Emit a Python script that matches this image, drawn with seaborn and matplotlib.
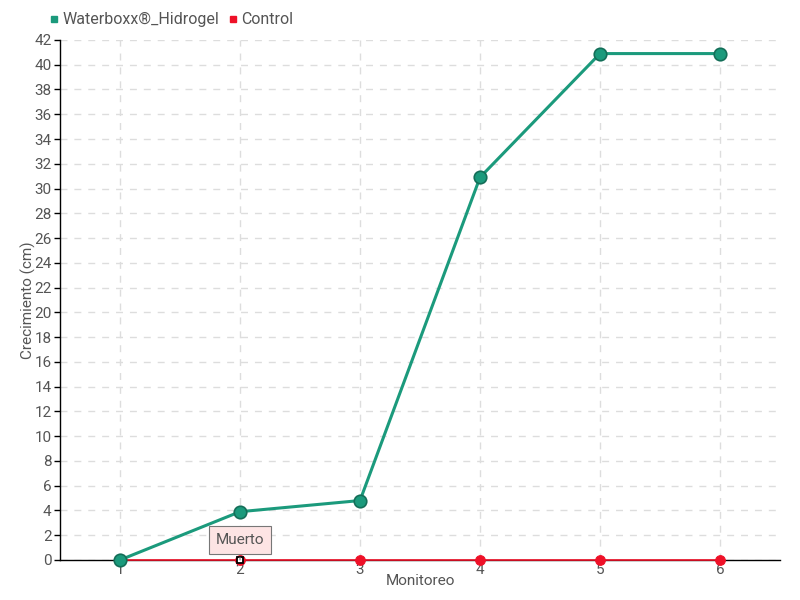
import matplotlib
matplotlib.use("Agg")
import matplotlib.pyplot as plt
import seaborn as sns
import pandas as pd

monitoreo = [1, 2, 3, 4, 5, 6]
waterboxx = [0.0, 3.9, 4.8, 30.9, 40.9, 40.9]
control = [0, 0, 0, 0, 0, 0]
series_names = ["Waterboxx®_Hidrogel", "Control"]
y_ticks = list(range(0, 43, 2))

sns.set_theme(style="white")
plt.rcParams['font.family'] = ['Roboto', 'DejaVu Sans']

teal = "#1b9a7c"
red = "#ee1128"
txt = "#555555"

df = pd.DataFrame({
    "Monitoreo": monitoreo * 2,
    "Crecimiento": waterboxx + control,
    "Serie": [series_names[0]] * 6 + [series_names[1]] * 6,
})

fig = plt.figure(figsize=(8, 6), dpi=100)
ax = fig.add_axes([0.075, 0.0667, 0.9, 0.8667])

sns.lineplot(data=df[df.Serie == series_names[1]], x="Monitoreo", y="Crecimiento",
             color=red, lw=1.2, marker="o", markersize=7, markeredgecolor=red,
             ax=ax, legend=False, zorder=5, clip_on=False)
sns.lineplot(data=df[df.Serie == series_names[0]], x="Monitoreo", y="Crecimiento",
             color=teal, lw=2.2, marker="o", markersize=9, markeredgecolor="#146e58",
             markeredgewidth=1.2, ax=ax, legend=False, zorder=6, clip_on=False)

# highlighted point
ax.plot([monitoreo[1]], [control[1]], marker="s", markersize=5, mfc="white",
        mec="black", mew=1.3, zorder=8, ls="none", clip_on=False)
ax.annotate("Muerto", xy=(monitoreo[1], control[1]), xytext=(monitoreo[1], 1.6),
            ha="center", va="center", fontsize=11, color=txt,
            bbox=dict(boxstyle="square,pad=0.45", fc="#fde4e4", ec="#777777", lw=0.8),
            arrowprops=dict(arrowstyle="-", color="#777777", lw=0.8), zorder=9)

ax.set_xlim(0.5, 6.5)
ax.set_ylim(0, 42)
ax.set_yticks(y_ticks)
ax.set_xticks(monitoreo)
ax.set_xticklabels([str(m) for m in monitoreo])
ax.grid(True, color="#dddddd", ls=(0, (5, 5)), lw=1)
ax.set_axisbelow(True)
for s in ["top", "right"]:
    ax.spines[s].set_visible(False)
for s in ["left", "bottom"]:
    ax.spines[s].set_color("black")
    ax.spines[s].set_linewidth(1)
ax.tick_params(axis="y", left=True, length=4, width=1, color="black", labelsize=11,
               labelcolor=txt, pad=2)
ax.tick_params(axis="x", bottom=False, labelsize=11, labelcolor=txt, pad=-4)
ax.set_xlabel("Monitoreo", fontsize=11, color=txt, labelpad=-2)
ax.set_ylabel("Crecimiento (cm)", fontsize=11, color=txt, labelpad=-1)

# legend
from matplotlib.lines import Line2D
handles = [Line2D([], [], ls="none", marker="s", markersize=5, color=teal),
           Line2D([], [], ls="none", marker="s", markersize=5, color=red)]
leg = fig.legend(handles, series_names, loc="upper left", bbox_to_anchor=(0.05, 0.99),
                 ncol=2, frameon=False, fontsize=11.5, handletextpad=0.0,
                 columnspacing=0.4, handlelength=1.0, borderaxespad=0)
for t in leg.get_texts():
    t.set_color(txt)

fig.savefig("out.png", dpi=100)
